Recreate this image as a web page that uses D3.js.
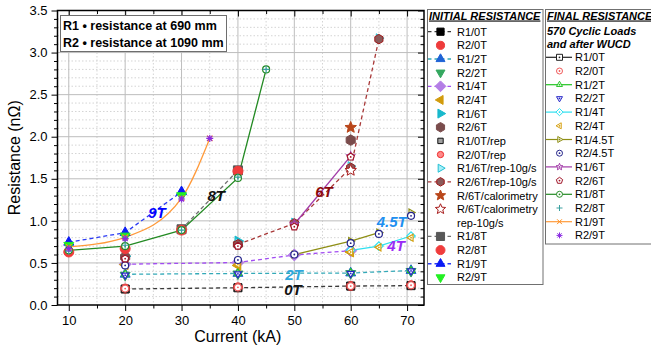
<!DOCTYPE html>
<html>
<head>
<meta charset="utf-8">
<script src="https://cdn.jsdelivr.net/npm/d3@7"></script>
<style>
  body { margin: 0; background: #fff; }
  svg { display: block; font-family: "Liberation Sans", Arial, sans-serif; }
</style>
</head>
<body>
<svg id="chart" width="651" height="350"></svg>
<script>
// ---------------------------------------------------------------------------
// Data: resistance (nΩ) versus current (kA)
// ---------------------------------------------------------------------------
const xTickValues = [10, 20, 30, 40, 50, 60, 70];
const yTickValues = [0, 0.5, 1.0, 1.5, 2.0, 2.5, 3.0, 3.5];

// currents (kA)
const cur0T2T      = [20, 40, 60, 70.7];
const curIniR1_4T  = [20, 40, 50, 60];
const curIniR2_4T  = [20, 40, 60];
const curIniR1_6T  = [20, 40];
const curIniR2_6T  = [20, 40, 60];
const cur6Trep     = [40, 50, 60, 65];
const curCal       = [60];
const curIniR1_8T  = [30, 40];
const curIniR2_8T  = [10, 20, 30, 40];
const curIni9T     = [10, 20, 30];
const curFinR1_4T  = [60, 65, 70.7];
const curFinR2_4T  = [40, 60, 65, 70.7];
const curFinR1_45T = [50, 60, 65, null, 70.7];
const curFinR2_45T = [20, 40, 50, 60, 65, 70.7];
const curFinR1_6T  = [50, 60];
const curFinR2_6T  = [20, 40, 50, 60];
const curFin8T     = [10, 20, 30, 40, 45];
const curFin9T     = [10, 20, 30, 35];

// initial resistance
const iniR1_0T    = [0.19, 0.205, 0.225, 0.23];
const iniR2_0T    = [0.195, 0.21, 0.225, 0.235];
const iniR1_2T    = [0.365, 0.375, 0.38, 0.41];
const iniR2_2T    = [0.355, 0.37, 0.375, 0.40];
const iniR1_4T    = [0.485, 0.505, 0.595, 0.645];
const iniR2_4T    = [0.48, 0.47, 0.63];
const iniR1_6T    = [0.58, 0.76];
const iniR2_6T    = [0.57, 0.72, 1.96];
const iniR1_0Trep = [0.19, 0.205, 0.22, 0.23];
const iniR2_0Trep = [0.19, 0.205, 0.22, 0.23];
const iniR1_6Trep = [0.74, 0.98, 1.65, 3.17];
const iniR2_6Trep = [0.72, 0.97, 1.63, 3.16];
const iniCal      = [2.11];
const iniCalRep   = [1.60];
const iniR1_8T    = [0.90, 1.60];
const iniR2_8T    = [0.63, 0.67, 0.89, 1.59];
const iniR1_9T    = [0.745, 0.86, 1.345];
const iniR2_9T    = [0.71, 0.82, 1.30];

// final resistance (570 cyclic loads and after WUCD)
const finR1_0T  = [0.19, 0.205, 0.225, 0.23];
const finR2_0T  = [0.195, 0.21, 0.225, 0.235];
const finR1_2T  = [0.37, 0.38, 0.385, 0.41];
const finR2_2T  = [0.355, 0.37, 0.375, 0.405];
const finR1_4T  = [0.65, 0.70, 0.82];
const finR2_4T  = [0.48, 0.63, 0.685, 0.80];
const finR1_45T = [0.60, 0.76, 0.86, null, 1.10];
const finR2_45T = [0.47, 0.535, 0.60, 0.735, 0.845, 1.06];
const finR1_6T  = [0.96, 1.77];
const finR2_6T  = [0.55, 0.70, 0.93, 1.76];
const finR1_8T  = [0.65, 0.70, 0.89, 1.51, 2.80];
const finR2_8T  = [0.64, 0.71, 0.89, 1.52, 2.80];
const finR1_9T  = [0.69, 0.805, 1.27, 1.98];
const finR2_9T  = [0.67, 0.79, 1.26, 1.98];

// field labels written next to the curves
const fieldLabels = ["9T", "8T", "6T", "4.5T", "4T", "2T", "0T"];

// ---------------------------------------------------------------------------
// Series tables (data + drawing style)
// ---------------------------------------------------------------------------
const initialSeries = [
  { name: ["R1/0T"], x: cur0T2T, y: iniR1_0T, shape: "square", size: 8, fill: "#000", stroke: "#000", line: "#3a3a3a" },
  { name: ["R2/0T"], x: cur0T2T, y: iniR2_0T, shape: "circle", size: 9, fill: "#ee3b3b", stroke: "#ee3b3b" },
  { name: ["R1/2T"], x: cur0T2T, y: iniR1_2T, shape: "triUp", size: 10, fill: "#1f63d6", stroke: "#1f63d6", line: "#33a9b8" },
  { name: ["R2/2T"], x: cur0T2T, y: iniR2_2T, shape: "triDown", size: 10, fill: "#35a860", stroke: "#35a860" },
  { name: ["R1/4T"], x: curIniR1_4T, y: iniR1_4T, shape: "diamond", size: 10, fill: "#b47ee6", stroke: "#b47ee6", line: "#a24df2" },
  { name: ["R2/4T"], x: curIniR2_4T, y: iniR2_4T, shape: "triLeft", size: 10, fill: "#d29b0c", stroke: "#d29b0c" },
  { name: ["R1/6T"], x: curIniR1_6T, y: iniR1_6T, shape: "triRight", size: 10, fill: "#18b9cc", stroke: "#18b9cc" },
  { name: ["R2/6T"], x: curIniR2_6T, y: iniR2_6T, shape: "hexagon", size: 10, fill: "#7a4c4c", stroke: "#7a4c4c" },
  { name: ["R1/0T/rep"], x: cur0T2T, y: iniR1_0Trep, shape: "square", size: 6, fill: "#a0a0a0", stroke: "#111" },
  { name: ["R2/0T/rep"], x: cur0T2T, y: iniR2_0Trep, shape: "circle", size: 7, fill: "#ff8a8a", stroke: "#ee2b2b" },
  { name: ["R1/6T/rep-10g/s"], x: cur6Trep, y: iniR1_6Trep, shape: "triRight", size: 9, fill: "#a8eef8", stroke: "#22c0d4" },
  { name: ["R2/6T/rep-10g/s"], x: cur6Trep, y: iniR2_6Trep, shape: "hexagon", size: 9, fill: "#8a5a5a", stroke: "#a01a1a", line: "#a83838" },
  { name: ["R/6T/calorimetry"], x: curCal, y: iniCal, shape: "star", size: 10, fill: "#b9461a", stroke: "#b9461a" },
  { name: ["R/6T/calorimetry", "rep-10g/s"], x: curCal, y: iniCalRep, shape: "star", size: 10, fill: "#fff", stroke: "#a81c1c" },
  { name: ["R1/8T"], x: curIniR1_8T, y: iniR1_8T, shape: "square", size: 9, fill: "#585858", stroke: "#585858", line: "#707070" },
  { name: ["R2/8T"], x: curIniR2_8T, y: iniR2_8T, shape: "circle", size: 10, fill: "#f03c3c", stroke: "#f03c3c" },
  { name: ["R1/9T"], x: curIni9T, y: iniR1_9T, shape: "triUp", size: 10, fill: "#0a1af5", stroke: "#0a1af5", line: "#2a3af5" },
  { name: ["R2/9T"], x: curIni9T, y: iniR2_9T, shape: "triDown", size: 10, fill: "#22f022", stroke: "#22f022" }
];

const finalSeries = [
  { name: "R1/0T", x: cur0T2T, y: finR1_0T, shape: "square", stroke: "#222", line: "#222", joinInPlot: false },
  { name: "R2/0T", x: cur0T2T, y: finR2_0T, shape: "circle", stroke: "#f05a5a" },
  { name: "R1/2T", x: cur0T2T, y: finR1_2T, shape: "triUp", stroke: "#22c422", line: "#22c422", joinInPlot: false },
  { name: "R2/2T", x: cur0T2T, y: finR2_2T, shape: "triDown", stroke: "#2424c8" },
  { name: "R1/4T", x: curFinR1_4T, y: finR1_4T, shape: "diamond", stroke: "#2ee0f0", line: "#2ee0f0" },
  { name: "R2/4T", x: curFinR2_4T, y: finR2_4T, shape: "triLeft", stroke: "#d6a010" },
  { name: "R1/4.5T", x: curFinR1_45T, y: finR1_45T, shape: "triRight", stroke: "#8e8e14", line: "#8e8e14" },
  { name: "R2/4.5T", x: curFinR2_45T, y: finR2_45T, shape: "circle", stroke: "#24248a" },
  { name: "R1/6T", x: curFinR1_6T, y: finR1_6T, shape: "star", stroke: "#a23aa8", line: "#a23aa8" },
  { name: "R2/6T", x: curFinR2_6T, y: finR2_6T, shape: "pentagon", stroke: "#a01428" },
  { name: "R1/8T", x: curFin8T, y: finR1_8T, shape: "circle", stroke: "#238a23", line: "#238a23" },
  { name: "R2/8T", x: curFin8T, y: finR2_8T, shape: "plus", stroke: "#3aa0a0" },
  { name: "R1/9T", x: curFin9T, y: finR1_9T, shape: "times", stroke: "#ff8c1a", line: "#ff9a3a", smooth: true },
  { name: "R2/9T", x: curFin9T, y: finR2_9T, shape: "asterisk", stroke: "#8a2be2" }
];

const labelColors = ["#0000ff", "#111", "#8b0a0a", "#1e8ff0", "#9a2cf5", "#2da6dc", "#111"];
// label anchors, in (kA, nΩ)
const labelAnchors = [[24.1, 1.035], [34.6, 1.24], [53.7, 1.285], [64.6, 0.925], [66.5, 0.645], [48.4, 0.303], [48.2, 0.113]];

// ---------------------------------------------------------------------------
// Marker shapes (custom d3.symbol types; size = diameter²)
// ---------------------------------------------------------------------------
function polygon(n, rot, k) {
  return { draw(ctx, size) {
    const r = Math.sqrt(size) / 2 * k;
    for (let i = 0; i < n; i++) {
      const a = rot + 2 * Math.PI * i / n;
      const px = r * Math.sin(a), py = -r * Math.cos(a);
      if (i) ctx.lineTo(px, py); else ctx.moveTo(px, py);
    }
    ctx.closePath();
  } };
}
const shapes = {
  square: { draw(ctx, size) { const h = Math.sqrt(size) / 2; ctx.rect(-h, -h, 2 * h, 2 * h); } },
  circle: { draw(ctx, size) { const r = Math.sqrt(size) / 2; ctx.moveTo(r, 0); ctx.arc(0, 0, r, 0, 2 * Math.PI); } },
  triUp: polygon(3, 0, 1.15),
  triDown: polygon(3, Math.PI, 1.15),
  triLeft: polygon(3, -Math.PI / 2, 1.15),
  triRight: polygon(3, Math.PI / 2, 1.15),
  diamond: polygon(4, 0, 1.2),
  hexagon: polygon(6, 0, 1.05),
  pentagon: polygon(5, 0, 1.1),
  star: { draw(ctx, size) {
    const R = Math.sqrt(size) / 2 * 1.2, r = R * 0.45;
    for (let i = 0; i < 10; i++) {
      const a = Math.PI * i / 5, rr = i % 2 ? r : R;
      const px = rr * Math.sin(a), py = -rr * Math.cos(a);
      if (i) ctx.lineTo(px, py); else ctx.moveTo(px, py);
    }
    ctx.closePath();
  } },
  plus: { draw(ctx, size) { const h = Math.sqrt(size) / 2; ctx.moveTo(-h, 0); ctx.lineTo(h, 0); ctx.moveTo(0, -h); ctx.lineTo(0, h); } },
  times: { draw(ctx, size) { const h = Math.sqrt(size) / 2 * 0.8; ctx.moveTo(-h, -h); ctx.lineTo(h, h); ctx.moveTo(-h, h); ctx.lineTo(h, -h); } },
  asterisk: { draw(ctx, size) {
    const h = Math.sqrt(size) / 2;
    for (let i = 0; i < 4; i++) { const a = Math.PI * i / 4; ctx.moveTo(-h * Math.sin(a), h * Math.cos(a)); ctx.lineTo(h * Math.sin(a), -h * Math.cos(a)); }
  } }
};
const strokeOnly = new Set(["plus", "times", "asterisk"]);
const symbolPath = (shape, d) => d3.symbol().type(shapes[shape]).size(d * d)();

// ---------------------------------------------------------------------------
// Layout
// ---------------------------------------------------------------------------
const svg = d3.select("#chart");
const plot = { left: 57.5, right: 424, top: 10.5, bottom: 305 };
const x = d3.scaleLinear().domain([8, 73]).range([plot.left, plot.right]);
const y = d3.scaleLinear().domain([0, 3.5]).range([plot.bottom, plot.top]);

const xMinor = d3.range(15, 70, 10);
const yMinor = d3.range(1, 35).filter(i => i % 5).map(i => i / 10);

// grid
const grid = svg.append("g");
grid.selectAll(".gxm").data(xMinor).join("line")
  .attr("x1", d => x(d)).attr("x2", d => x(d)).attr("y1", plot.top).attr("y2", plot.bottom)
  .attr("stroke", "#d4d4d4").attr("stroke-dasharray", "1.5,2");
grid.selectAll(".gym").data(yMinor).join("line")
  .attr("y1", d => y(d)).attr("y2", d => y(d)).attr("x1", plot.left).attr("x2", plot.right)
  .attr("stroke", "#d4d4d4").attr("stroke-dasharray", "1.5,2");
grid.selectAll(".gx").data(xTickValues).join("line")
  .attr("x1", d => x(d)).attr("x2", d => x(d)).attr("y1", plot.top).attr("y2", plot.bottom)
  .attr("stroke", "#bdbdbd");
grid.selectAll(".gy").data(yTickValues.slice(1, -1)).join("line")
  .attr("y1", d => y(d)).attr("y2", d => y(d)).attr("x1", plot.left).attr("x2", plot.right)
  .attr("stroke", "#bdbdbd");

// lines
const lineGen = d3.line().defined(d => d[0] != null && d[1] != null).x(d => x(d[0])).y(d => y(d[1]));
const pts = s => s.x.map((v, i) => [v, s.y[i]]);
const linesG = svg.append("g").attr("fill", "none");
initialSeries.filter(s => s.line).forEach(s => {
  linesG.append("path").attr("d", lineGen.curve(d3.curveLinear)(pts(s)))
    .attr("stroke", s.line).attr("stroke-width", 1.3).attr("stroke-dasharray", "4,3");
});
finalSeries.filter(s => s.line && s.joinInPlot !== false).forEach(s => {
  linesG.append("path").attr("d", lineGen.curve(s.smooth ? d3.curveMonotoneX : d3.curveLinear)(pts(s)))
    .attr("stroke", s.line).attr("stroke-width", 1.3);
});

// markers
function drawMarker(g, shape, d, fill, stroke, sw, dot) {
  g.append("path").attr("d", symbolPath(shape, d))
    .attr("fill", strokeOnly.has(shape) ? "none" : fill)
    .attr("stroke", stroke).attr("stroke-width", sw);
  if (dot && !strokeOnly.has(shape)) g.append("circle").attr("r", 0.9).attr("fill", stroke);
}
const markG = svg.append("g");
initialSeries.forEach(s => {
  pts(s).filter(p => p[0] != null && p[1] != null).forEach(p => {
    const g = markG.append("g").attr("transform", `translate(${x(p[0])},${y(p[1])})`);
    drawMarker(g, s.shape, s.size, s.fill, s.stroke, 1, false);
  });
});
finalSeries.forEach(s => {
  pts(s).filter(p => p[0] != null && p[1] != null).forEach(p => {
    const g = markG.append("g").attr("transform", `translate(${x(p[0])},${y(p[1])})`);
    drawMarker(g, s.shape, 7, "#fff", s.stroke, 1.2, true);
  });
});

// axes
function styleAxis(g) {
  g.select(".domain").remove();
  g.selectAll("line").attr("stroke", "#000");
  g.selectAll("text").attr("font-family", "'Liberation Sans', Arial, sans-serif").attr("font-size", 13).attr("fill", "#000");
}
svg.append("g").attr("transform", `translate(0,${plot.bottom})`)
  .call(d3.axisBottom(x).tickValues(xTickValues).tickSize(6).tickPadding(5).tickFormat(d3.format("d"))).call(styleAxis);
svg.append("g").attr("transform", `translate(0,${plot.bottom})`)
  .call(d3.axisBottom(x).tickValues(xMinor).tickSize(3.5).tickFormat("")).call(styleAxis);
svg.append("g").attr("transform", `translate(${plot.left},0)`)
  .call(d3.axisLeft(y).tickValues(yTickValues).tickSize(6).tickPadding(4).tickFormat(d3.format(".1f"))).call(styleAxis);
svg.append("g").attr("transform", `translate(${plot.left},0)`)
  .call(d3.axisLeft(y).tickValues(yMinor).tickSize(3.5).tickFormat("")).call(styleAxis);
svg.append("g").attr("transform", `translate(0,${plot.top})`)
  .call(d3.axisTop(x).tickValues(xTickValues).tickSize(-6).tickFormat("")).call(styleAxis);
svg.append("g").attr("transform", `translate(0,${plot.top})`)
  .call(d3.axisTop(x).tickValues(xMinor).tickSize(-3.5).tickFormat("")).call(styleAxis);
svg.append("g").attr("transform", `translate(${plot.right},0)`)
  .call(d3.axisRight(y).tickValues(yTickValues).tickSize(-6).tickFormat("")).call(styleAxis);
svg.append("g").attr("transform", `translate(${plot.right},0)`)
  .call(d3.axisRight(y).tickValues(yMinor).tickSize(-3.5).tickFormat("")).call(styleAxis);

svg.append("rect").attr("x", plot.left).attr("y", plot.top)
  .attr("width", plot.right - plot.left).attr("height", plot.bottom - plot.top)
  .attr("fill", "none").attr("stroke", "#000").attr("stroke-width", 1.5);

// axis titles
svg.append("text").attr("x", (plot.left + plot.right) / 2 - 3).attr("y", 342)
  .attr("text-anchor", "middle").attr("font-size", 16).text("Current (kA)");
svg.append("text").attr("transform", `translate(20,${(plot.top + plot.bottom) / 2}) rotate(-90)`)
  .attr("text-anchor", "middle").attr("font-size", 16).text("Resistance (nΩ)");

// field labels
fieldLabels.forEach((t, i) => {
  svg.append("text").attr("x", x(labelAnchors[i][0])).attr("y", y(labelAnchors[i][1]))
    .attr("font-size", 15).attr("font-weight", "bold").attr("font-style", "italic")
    .attr("fill", labelColors[i]).text(t);
});

// note box
const note = svg.append("g");
note.append("rect").attr("x", 60.5).attr("y", 15.5).attr("width", 166).attr("height", 36)
  .attr("fill", "#fff").attr("stroke", "#6e6e6e");
["R1 \u2022 resistance at 690 mm", "R2 \u2022 resistance at 1090 mm"].forEach((t, i) => {
  note.append("text").attr("x", 63).attr("y", 29.5 + i * 17).attr("font-size", 12.5)
    .attr("font-weight", "bold").text(t);
});

// ---------------------------------------------------------------------------
// Legends
// ---------------------------------------------------------------------------
const leg1 = svg.append("g");
leg1.append("rect").attr("x", 427.5).attr("y", 9.5).attr("width", 115.5).attr("height", 275)
  .attr("fill", "#fff").attr("stroke", "#707070");
leg1.append("text").attr("x", 429).attr("y", 19.5).attr("font-size", 11).attr("font-weight", "bold")
  .attr("font-style", "italic").attr("text-decoration", "underline").text("INITIAL RESISTANCE");
let row = 0;
initialSeries.forEach(s => {
  const cy = 31.7 + row * 13.65;
  if (s.line) {
    leg1.append("line").attr("x1", 428).attr("x2", 453).attr("y1", cy).attr("y2", cy)
      .attr("stroke", s.line).attr("stroke-width", 1.3).attr("stroke-dasharray", "3.5,3");
  }
  const g = leg1.append("g").attr("transform", `translate(440.5,${cy})`);
  drawMarker(g, s.shape, s.size * 0.9, s.fill, s.stroke, 1, false);
  s.name.forEach((t, j) => {
    leg1.append("text").attr("x", 457).attr("y", cy + 4 + j * 13.65).attr("font-size", 11).text(t);
  });
  row += s.name.length;
});

const leg2 = svg.append("g");
leg2.append("rect").attr("x", 545.5).attr("y", 9.5).attr("width", 120).attr("height", 234.5)
  .attr("fill", "#fff").attr("stroke", "#707070");
leg2.append("text").attr("x", 547).attr("y", 19.5).attr("font-size", 11).attr("font-weight", "bold")
  .attr("font-style", "italic").attr("text-decoration", "underline").text("FINAL RESISTANCE");
["570 Cyclic Loads", "and after WUCD"].forEach((t, i) => {
  leg2.append("text").attr("x", 547).attr("y", 35 + i * 12.7).attr("font-size", 11)
    .attr("font-weight", "bold").attr("font-style", "italic").text(t);
});
finalSeries.forEach((s, i) => {
  const cy = 57.3 + i * 13.7;
  if (s.line) {
    leg2.append("line").attr("x1", 546).attr("x2", 572).attr("y1", cy).attr("y2", cy)
      .attr("stroke", s.line).attr("stroke-width", 1.2);
  }
  const g = leg2.append("g").attr("transform", `translate(559.5,${cy})`);
  drawMarker(g, s.shape, 6, "#fff", s.stroke, 1, true);
  leg2.append("text").attr("x", 575).attr("y", cy + 4).attr("font-size", 11).text(s.name);
});
</script>
</body>
</html>
